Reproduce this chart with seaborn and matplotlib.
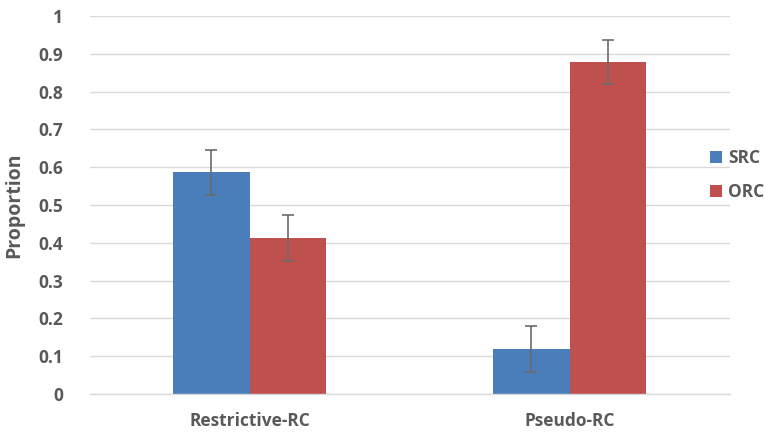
import matplotlib
matplotlib.use("Agg")
import matplotlib.pyplot as plt
import seaborn as sns
import pandas as pd
import numpy as np
from matplotlib.patches import Patch

categories = ["Restrictive-RC", "Pseudo-RC"]
series = ["SRC", "ORC"]
src_values = [0.586, 0.119]
orc_values = [0.412, 0.878]
src_err = [0.060, 0.060]
orc_err = [0.061, 0.059]
yticks = [0, 0.1, 0.2, 0.3, 0.4, 0.5, 0.6, 0.7, 0.8, 0.9, 1]
ytick_labels = ["0", "0.1", "0.2", "0.3", "0.4", "0.5", "0.6", "0.7", "0.8", "0.9", "1"]

colors = {"SRC": "#4A7EBB", "ORC": "#C0504D"}
text_color = "#595959"

df = pd.DataFrame({
    "category": categories * 2,
    "series": ["SRC"] * len(categories) + ["ORC"] * len(categories),
    "value": src_values + orc_values,
    "err": src_err + orc_err,
})

sns.set_theme(style="white")
plt.rcParams["font.family"] = ["Open Sans", "DejaVu Sans"]

fig = plt.figure(figsize=(7.65, 4.34), dpi=100)
ax = fig.add_axes([89.5 / 765, 40 / 434, 640 / 765, 378 / 434])

sns.barplot(data=df, x="category", y="value", hue="series", order=categories,
            hue_order=series, palette=colors, width=0.478, errorbar=None,
            saturation=1, linewidth=0, legend=False, ax=ax)

# error bars at bar centers
bars = [p for p in ax.patches if p.get_height() > 0]
for s_i, s in enumerate(series):
    sub = df[df.series == s].set_index("category").loc[categories]
    for c_i in range(len(categories)):
        p = bars[s_i * len(categories) + c_i]
        xc = p.get_x() + p.get_width() / 2
        ax.errorbar(xc, sub["value"].iloc[c_i], yerr=sub["err"].iloc[c_i],
                    fmt="none", ecolor="#6b6b6b", elinewidth=1.2, capsize=4,
                    capthick=1.2, zorder=5)

ax.set_xlim(-0.5, 1.5)
ax.set_ylim(0, 1)
ax.set_yticks(yticks)
ax.set_yticklabels(ytick_labels)
ax.yaxis.grid(True, color="#d9d9d9", linewidth=1)
ax.set_axisbelow(True)
for sp in ["top", "right", "left"]:
    ax.spines[sp].set_visible(False)
ax.spines["bottom"].set_color("#d9d9d9")
ax.spines["bottom"].set_linewidth(1)
ax.tick_params(axis="y", length=0, pad=19, labelsize=12.5, labelcolor=text_color)
ax.tick_params(axis="x", length=0, pad=13, labelsize=12.5, labelcolor=text_color)
for lbl in ax.get_xticklabels() + ax.get_yticklabels():
    lbl.set_fontweight("bold")
ax.set_xlabel("")
ax.set_ylabel("Proportion", fontsize=14, color=text_color, fontweight="bold", labelpad=10)

handles = [Patch(facecolor=colors[s], edgecolor="none", label=s) for s in series]
leg = fig.legend(handles=handles, loc="center left", bbox_to_anchor=(703 / 765, 1 - 175 / 434),
                 frameon=False, fontsize=12.5, handlelength=0.7, handleheight=0.7,
                 handletextpad=0.35, labelspacing=0.9, borderaxespad=0)
for t in leg.get_texts():
    t.set_color(text_color)
    t.set_fontweight("bold")

fig.savefig("out.png", dpi=100, facecolor="white")
